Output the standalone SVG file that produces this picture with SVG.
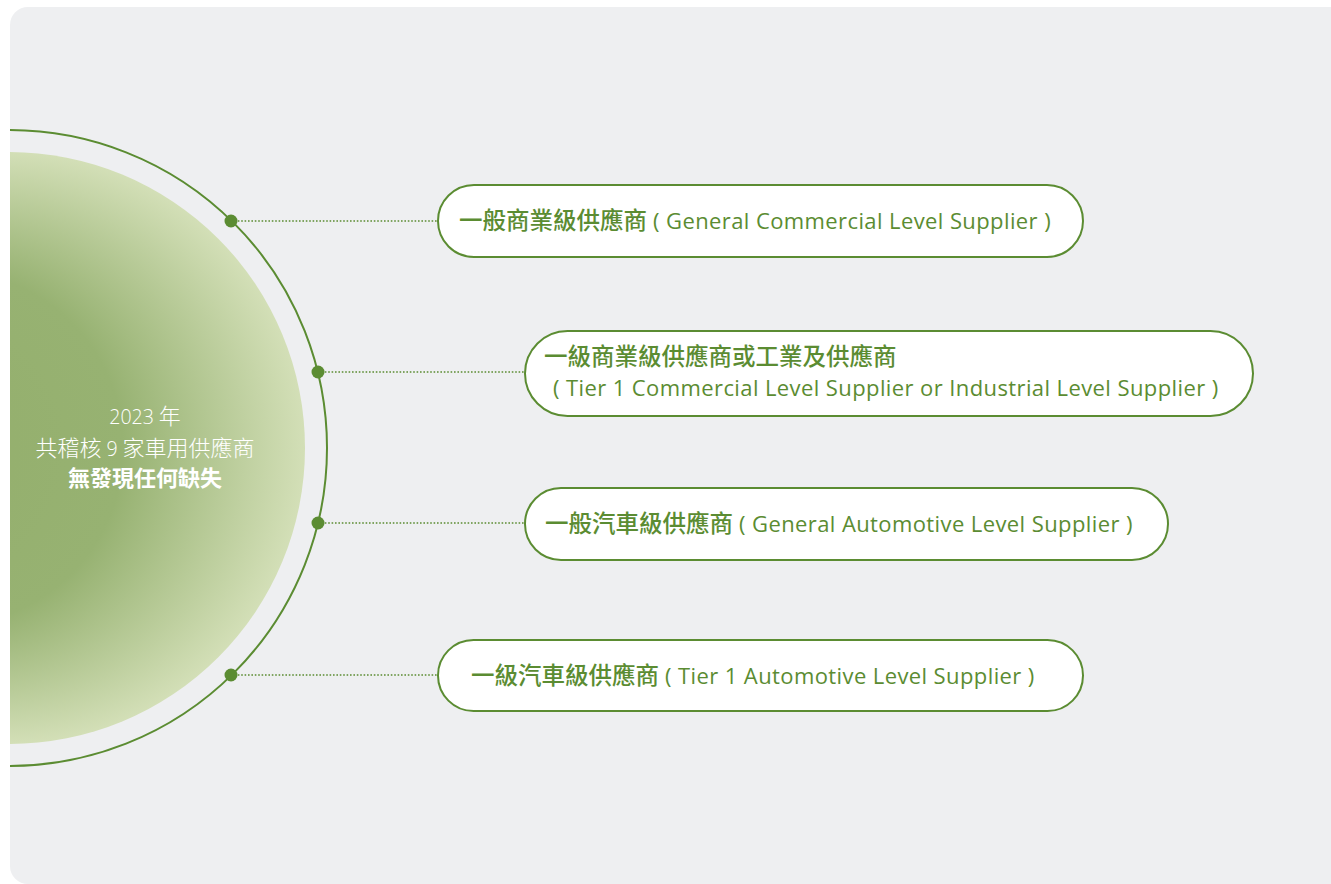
<svg xmlns="http://www.w3.org/2000/svg" width="1331" height="884" viewBox="0 0 1331 884">
<defs>
<radialGradient id="g" gradientUnits="userSpaceOnUse" cx="9" cy="448" r="296" fx="-150" fy="448">
<stop offset="0" stop-color="#92ad69"/>
<stop offset="0.6" stop-color="#97b272"/>
<stop offset="1" stop-color="#d3dfb7"/>
</radialGradient>
<clipPath id="panel"><rect x="10" y="7" width="1340" height="877" rx="18"/></clipPath>
</defs>
<style>
.box{fill:#ffffff;stroke:#5b8c32;stroke-width:2}
.lbl{font-family:"Open Sans","Noto Sans CJK TC",sans-serif;font-size:22px;letter-spacing:0.4px;fill:#5b8c32;font-weight:500}
.cjk{font-family:"Noto Sans CJK TC",sans-serif;font-size:23.5px;letter-spacing:0;font-weight:500}
.conn{stroke:#5b8c32;stroke-width:1.6;stroke-dasharray:1.6 1.8;fill:none}
.dot{fill:#5b8c32}
.ctr{font-family:"Noto Sans CJK TC",sans-serif;font-size:22px;fill:#ffffff;text-anchor:middle}
.num{font-family:"Open Sans",sans-serif;font-size:19.5px}
</style>
<rect x="0" y="0" width="1331" height="884" fill="#ffffff"/>
<rect x="10" y="7" width="1340" height="877" rx="18" fill="#eeeff1"/>
<g id="center" clip-path="url(#panel)">
<circle cx="9" cy="448" r="318" fill="none" stroke="#5b8c32" stroke-width="2"/>
<circle cx="9" cy="448" r="296" fill="url(#g)"/>
<text class="ctr" x="145" y="424" font-weight="300"><tspan class="num">2023</tspan> 年</text>
<text class="ctr" x="145" y="456" font-weight="300">共稽核 <tspan class="num">9</tspan> 家車用供應商</text>
<text class="ctr" x="145" y="486" font-weight="700">無發現任何缺失</text>
</g>
<g id="connectors">
<line class="conn" x1="231" y1="221" x2="438" y2="221"/>
<line class="conn" x1="318" y1="372" x2="525" y2="372"/>
<line class="conn" x1="318" y1="523" x2="525" y2="523"/>
<line class="conn" x1="231" y1="675" x2="438" y2="675"/>
<circle class="dot" cx="231" cy="221" r="6.5"/>
<circle class="dot" cx="318" cy="372" r="6.5"/>
<circle class="dot" cx="318" cy="523" r="6.5"/>
<circle class="dot" cx="231" cy="675" r="6.5"/>
</g>
<g id="node1">
<rect class="box" x="438" y="185" width="645" height="72" rx="36"/>
<text class="lbl" y="229"><tspan class="cjk" x="459">一般商業級供應商</tspan><tspan x="653">( General Commercial Level Supplier )</tspan></text>
</g>
<g id="node2">
<rect class="box" x="525" y="331" width="728" height="85" rx="42.5"/>
<text class="lbl" y="365"><tspan class="cjk" x="544">一級商業級供應商或工業及供應商</tspan></text>
<text class="lbl" x="553" y="396">( Tier 1 Commercial Level Supplier or Industrial Level Supplier )</text>
</g>
<g id="node3">
<rect class="box" x="525" y="488" width="643" height="72" rx="36"/>
<text class="lbl" y="532"><tspan class="cjk" x="545">一般汽車級供應商</tspan><tspan x="739">( General Automotive Level Supplier )</tspan></text>
</g>
<g id="node4">
<rect class="box" x="438" y="640" width="645" height="71" rx="35.5"/>
<text class="lbl" y="684"><tspan class="cjk" x="471">一級汽車級供應商</tspan><tspan x="665">( Tier 1 Automotive Level Supplier )</tspan></text>
</g>
</svg>
